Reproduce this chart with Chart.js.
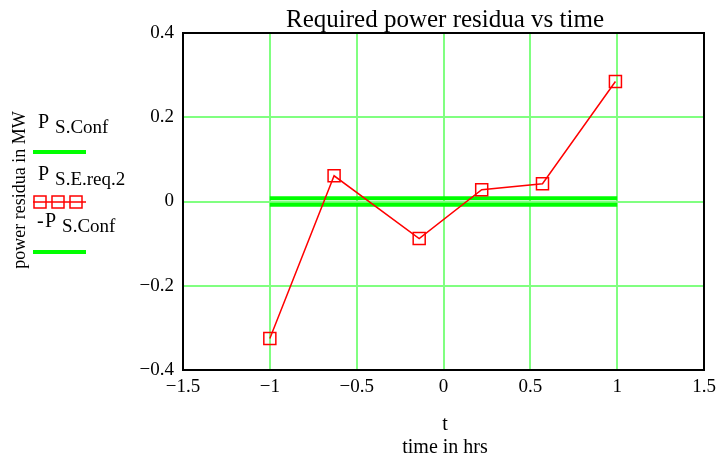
<!DOCTYPE html>
<html>
<head>
<meta charset="utf-8">
<script src="https://cdn.jsdelivr.net/npm/chart.js@4/dist/chart.umd.min.js"></script>
<style>
html,body{margin:0;padding:0;background:#fff;}
#wrap{width:720px;height:459px;position:relative;}
</style>
</head>
<body>
<div id="wrap"><canvas id="c" width="720" height="459"></canvas></div>
<script>
const chartTitle = 'Required power residua vs time';
const yTitle = 'power residua in MW';
const xTitleLines = ['t', 'time in hrs'];
const tValues = [-1, -0.63, -0.14, 0.22, 0.57, 0.99];
const residua = [-0.325, 0.061, -0.088, 0.028, 0.042, 0.285];
const confT = [-1, 1];
const confPos = [0.008, 0.008];
const confNeg = [-0.008, -0.008];
const legendEntries = [
  {pre: 'P', sub: 'S.Conf'},
  {pre: 'P', sub: 'S.E.req.2'},
  {pre: '-P', sub: 'S.Conf'}
];

const SERIF = '"Liberation Serif", "Times New Roman", serif';
const toXY = (xs, ys) => xs.map((x, i) => ({x: x, y: ys[i]}));
const fmt = v => {
  const r = Math.round(v * 10) / 10;
  if (r === 0) return '0';
  return (r < 0 ? '\u2212' : '') + String(Math.abs(r));
};

const decor = {
  id: 'decor',
  afterDraw(chart) {
    const ctx = chart.ctx;
    const a = chart.chartArea;
    ctx.save();
    // frame
    ctx.strokeStyle = '#000';
    ctx.lineWidth = 2;
    ctx.strokeRect(a.left, a.top, a.right - a.left, a.bottom - a.top);
    ctx.fillStyle = '#000';
    // title
    ctx.font = '25px ' + SERIF;
    ctx.textAlign = 'center';
    ctx.textBaseline = 'alphabetic';
    ctx.fillText(chartTitle, 445, 27);
    // x title
    ctx.font = '20px ' + SERIF;
    ctx.fillText(xTitleLines[0], 445, 430);
    ctx.fillText(xTitleLines[1], 445, 453);
    // y title
    ctx.save();
    ctx.font = '18px ' + SERIF;
    ctx.translate(25, 190);
    ctx.rotate(-Math.PI / 2);
    ctx.fillText(yTitle, 0, 0);
    ctx.restore();
    // legend
    const ys = [128, 180, 227];
    const lineYs = [152, 202, 252];
    ctx.textAlign = 'left';
    legendEntries.forEach((e, i) => {
      ctx.font = '20px ' + SERIF;
      let px = 38;
      if (e.pre.startsWith('-')) {
        ctx.fillText('-', 37, ys[i]);
        px = 45;
      }
      ctx.fillText('P', px, ys[i]);
      const w = ctx.measureText('P').width;
      ctx.font = '19px ' + SERIF;
      ctx.fillText(e.sub, px + w + 6, ys[i] + 5);
      const ds = chart.data.datasets[i === 0 ? 1 : (i === 1 ? 0 : 2)];
      ctx.strokeStyle = ds.borderColor;
      ctx.lineWidth = i === 1 ? 1.5 : 4;
      ctx.beginPath();
      ctx.moveTo(33, lineYs[i]);
      ctx.lineTo(86, lineYs[i]);
      ctx.stroke();
      if (i === 1) {
        [40, 58, 76].forEach(cx => {
          ctx.strokeRect(cx - 6, lineYs[i] - 6, 12, 12);
        });
      }
    });
    ctx.restore();
  }
};

new Chart(document.getElementById('c'), {
  type: 'scatter',
  data: {
    datasets: [
      {
        label: 'P S.E.req.2',
        data: toXY(tValues, residua),
        showLine: true,
        borderColor: '#ff0000',
        backgroundColor: 'rgba(0,0,0,0)',
        borderWidth: 1.5,
        pointStyle: 'rect',
        pointRadius: 8.5,
        pointHoverRadius: 8.5,
        pointBorderWidth: 1.5,
        order: 0
      },
      {
        label: 'P S.Conf',
        data: toXY(confT, confPos),
        showLine: true,
        borderColor: '#00ff00',
        borderWidth: 4,
        pointRadius: 0,
        order: 1
      },
      {
        label: '-P S.Conf',
        data: toXY(confT, confNeg),
        showLine: true,
        borderColor: '#00ff00',
        borderWidth: 4,
        pointRadius: 0,
        order: 1
      }
    ]
  },
  options: {
    responsive: false,
    animation: false,
    devicePixelRatio: 1,
    layout: {padding: {left: 0, right: 16, top: 33, bottom: 0}},
    plugins: {legend: {display: false}, tooltip: {enabled: false}, title: {display: false}},
    scales: {
      x: {
        type: 'linear',
        min: -1.5, max: 1.5,
        afterFit(s) { s.height = 89; s.paddingRight = 0; s.paddingLeft = 0; },
        grid: {color: '#80ff80', lineWidth: 2, drawTicks: false},
        border: {display: false},
        ticks: {stepSize: 0.5, padding: 6, color: '#000', font: {family: SERIF, size: 19}, callback: v => fmt(v), maxRotation: 0, autoSkip: false}
      },
      y: {
        type: 'linear',
        min: -0.4, max: 0.4,
        afterFit(s) { s.width = 183; s.paddingTop = 0; s.paddingBottom = 0; },
        grid: {color: '#80ff80', lineWidth: 2, drawTicks: false},
        border: {display: false},
        ticks: {stepSize: 0.2, padding: 9, color: '#000', font: {family: SERIF, size: 19}, callback: v => fmt(v)}
      }
    }
  },
  plugins: [decor]
});
</script>
</body>
</html>
